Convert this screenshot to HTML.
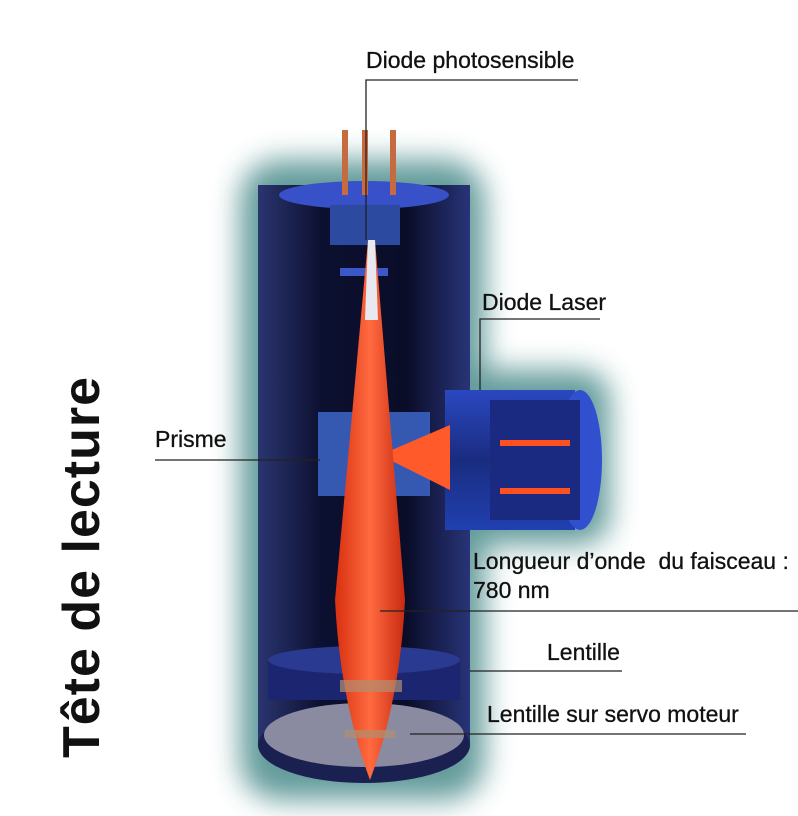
<!DOCTYPE html>
<html><head><meta charset="utf-8"><style>
html,body{margin:0;padding:0;background:#fff;}
body{width:798px;height:816px;position:relative;overflow:hidden;font-family:"Liberation Sans",sans-serif;}
.t{position:absolute;font-size:23px;color:#111;white-space:nowrap;-webkit-text-stroke:0.3px #111;}
.v{position:absolute;left:52px;top:758px;transform:rotate(-90deg);transform-origin:left top;font-size:52px;font-weight:bold;color:#111;white-space:nowrap;letter-spacing:1px;}
</style></head><body>
<svg width="798" height="816" style="position:absolute;left:0;top:0">
<defs>
<filter id="b" x="-30%" y="-30%" width="160%" height="160%"><feGaussianBlur stdDeviation="14"/></filter>
<linearGradient id="cyl" x1="0" x2="1"><stop offset="0" stop-color="#2a3570"/><stop offset="0.3" stop-color="#0c1030"/><stop offset="0.7" stop-color="#0a0d28"/><stop offset="1" stop-color="#283478"/></linearGradient>
<linearGradient id="beam" x1="0" x2="1"><stop offset="0" stop-color="#d83010"/><stop offset="0.5" stop-color="#ff6a40"/><stop offset="1" stop-color="#c82a10"/></linearGradient>
<linearGradient id="tube" x1="0" x2="0" y1="0" y2="1"><stop offset="0" stop-color="#2a48c0"/><stop offset="0.5" stop-color="#1a2c80"/><stop offset="1" stop-color="#2040b0"/></linearGradient>
</defs>
<g filter="url(#b)" opacity="0.85">
<rect x="240" y="160" width="245" height="640" rx="40" fill="#4a8a8a"/>
<rect x="440" y="370" width="170" height="175" rx="30" fill="#4a8a8a"/>
</g>
<rect x="258" y="185" width="212" height="560" fill="url(#cyl)"/>
<ellipse cx="364" cy="745" rx="106" ry="38" fill="#1a2050"/>
<ellipse cx="364" cy="735" rx="100" ry="32" fill="#8a8aa0"/>
<rect x="268" y="660" width="192" height="40" fill="#1c2670"/>
<ellipse cx="364" cy="660" rx="96" ry="14" fill="#2a3a90"/>
<ellipse cx="364" cy="195" rx="85" ry="14" fill="#3850c8"/>
<rect x="330" y="205" width="70" height="40" fill="#2c4aa0"/>
<rect x="340" y="268" width="48" height="8" fill="#3a58c8"/>
<rect x="342" y="130" width="6" height="65" fill="#c86a40"/>
<rect x="362" y="130" width="6" height="65" fill="#c86a40"/>
<rect x="390" y="130" width="6" height="65" fill="#c86a40"/>
<rect x="445" y="390" width="130" height="140" fill="url(#tube)"/>
<ellipse cx="580" cy="460" rx="22" ry="70" fill="#3050d0"/>
<rect x="490" y="400" width="90" height="120" fill="#1a2a80"/>
<rect x="500" y="440" width="70" height="6" fill="#ff5020"/>
<rect x="500" y="488" width="70" height="6" fill="#ff5020"/>
<rect x="318" y="412" width="112" height="84" fill="#3a60c0" opacity="0.9"/>
<polygon points="380,455 450,425 450,490" fill="#ff5a2a"/>
<path d="M368,240 L375,240 L405,600 Q400,700 370,780 Q340,700 335,600 Z" fill="url(#beam)"/>
<path d="M368,240 L375,240 L378,320 L365,320 Z" fill="#e8e8f0"/>
<rect x="340" y="680" width="62" height="12" fill="#b09070" opacity="0.7"/>
<rect x="345" y="730" width="50" height="8" fill="#b09070" opacity="0.7"/>
<g stroke="#222" stroke-width="1.3" fill="none">
<polyline points="366,240 366,80 578,80"/>
<polyline points="480,390 480,319 600,319"/>
<line x1="155" y1="460" x2="320" y2="460"/>
<line x1="380" y1="611" x2="798" y2="611"/>
<line x1="470" y1="671" x2="622" y2="671"/>
<line x1="410" y1="734" x2="746" y2="734"/>
</g>
</svg>
<div class="t" style="left:366px;top:47px">Diode photosensible</div>
<div class="t" style="left:482px;top:289px">Diode Laser</div>
<div class="t" style="left:155px;top:426px">Prisme</div>
<div class="t" style="left:473px;top:548px">Longueur d’onde&nbsp; du faisceau :</div>
<div class="t" style="left:473px;top:577px">780 nm</div>
<div class="t" style="left:547px;top:639px">Lentille</div>
<div class="t" style="left:487px;top:701px">Lentille sur servo moteur</div>
<div class="v">Tête de lecture</div>
</body></html>
